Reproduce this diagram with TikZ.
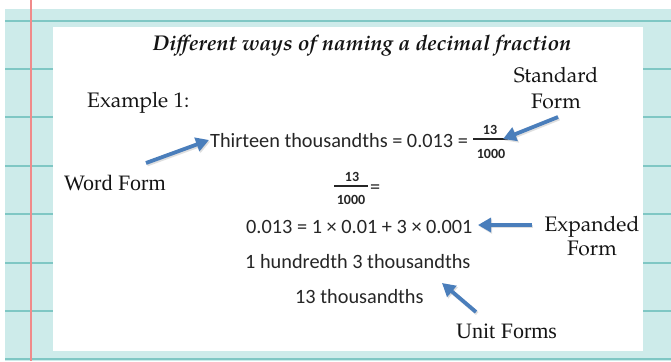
\documentclass[tikz,border=0pt]{standalone}
\usepackage{fontspec}
\setmainfont{Liberation Serif}
\newfontfamily\calfont{Carlito}
\newfontfamily\palfont{TeX Gyre Pagella}
\usetikzlibrary{arrows.meta}
\definecolor{paper}{HTML}{CDEBEA}
\definecolor{rule}{HTML}{7FC7C4}
\definecolor{margin}{HTML}{F08A8A}
\definecolor{arrowblue}{HTML}{4A7EBB}
\definecolor{ink}{HTML}{141414}
\definecolor{sink}{HTML}{262626}
\tikzset{
  lbl/.style={inner sep=0pt, text=ink, anchor=base},
  serif/.style={lbl, font=\fontsize{22}{24}\selectfont},
  pal/.style={lbl, font=\palfont\fontsize{21}{24}\selectfont},
  sans/.style={lbl, text=sink, anchor=base west, font=\calfont\fontsize{20.3}{24}\selectfont},
  small/.style={lbl, text=sink, font=\calfont\bfseries\fontsize{14}{16}\selectfont},
  callout/.style={draw=arrowblue, line width=3.8pt, -{Triangle[length=13pt,width=14pt]}},
  shadow/.style={draw=black!35, opacity=0.35, line width=3.8pt, -{Triangle[length=13pt,width=14pt]}},
  fracbar/.style={draw=sink, line width=1.6pt},
  ruling/.style={draw=rule, line width=1.4pt}
}
\begin{document}
\begin{tikzpicture}[x=1pt,y=-1pt]
\useasboundingbox (0,0) rectangle (671,361);
\fill[white] (0,0) rectangle (671,361);
\fill[paper] (5,9) rectangle (671,361);
\foreach \yy in {21,69,117,166,214,263,311,359}
  \draw[ruling] (5,\yy) -- (671,\yy);
\draw[margin, line width=1.2pt] (31,0) -- (31,361);
\fill[white] (53,27) rectangle (643,351);

% title
\node[lbl, font=\palfont\bfseries\itshape\fontsize{21.3}{24}\selectfont] (title) at (362,50) {Different ways of naming a decimal fraction};
\node[pal, anchor=base west] (ex) at (87,107) {Example 1:};
\node[pal] (std1) at (556,82) {Standard};
\node[pal] (std2) at (556,108) {Form};
\node[pal] (exp1) at (592,231) {Expanded};
\node[pal] (exp2) at (592,255) {Form};
\node[serif, anchor=base west] (word) at (64,190) {Word Form};
\node[serif, anchor=base west] (unit) at (456,338) {Unit Forms};

% main expressions
\node[sans] (line1) at (210,147) {Thirteen thousandths = 0.013 =};
\node[small] (n1) at (490,134) {13};
\node[small] (d1) at (491,158) {1000};
\draw[fracbar] (473,139) -- (508,139);

\node[small] (n2) at (352,181) {13};
\node[small] (d2) at (351,204) {1000};
\draw[fracbar] (334,186) -- (368,186);
\node[sans] (eq2) at (370,193) {=};

\node[sans] (line2) at (246,233) {0.013 = 1 × 0.01 + 3 × 0.001};
\node[sans] (line3) at (245,268) {1 hundredth 3 thousandths};
\node[sans] (line4) at (295,303) {13 thousandths};

% arrows
\coordinate (wt) at (146,163); \coordinate (wh) at (209,140);
\coordinate (st) at (558,117); \coordinate (sh) at (503,139);
\coordinate (et) at (532,225); \coordinate (eh) at (478,225);
\coordinate (ut) at (476,312); \coordinate (uh) at (442,283);
\foreach \a/\b in {wt/wh,st/sh,et/eh,ut/uh}{
  \draw[shadow, transform canvas={shift={(1.2pt,-1.5pt)}}] (\a) -- (\b);
  \draw[callout] (\a) -- (\b);
}
\end{tikzpicture}
\end{document}
